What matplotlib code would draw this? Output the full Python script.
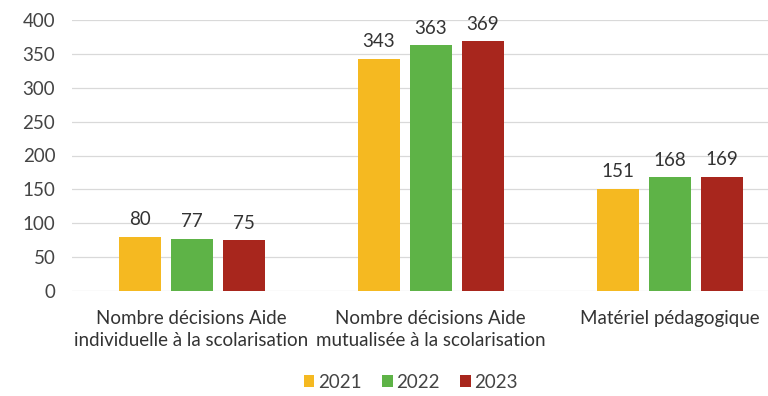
import matplotlib
matplotlib.use("Agg")
import matplotlib.pyplot as plt
import numpy as np

categories = [
    "Nombre décisions Aide\nindividuelle à la scolarisation",
    "Nombre décisions Aide\nmutualisée à la scolarisation",
    "Matériel pédagogique",
]
years = ["2021", "2022", "2023"]
values_2021 = [80, 343, 151]
values_2022 = [77, 363, 168]
values_2023 = [75, 369, 169]
series = [values_2021, values_2022, values_2023]
colors = ["#F5B921", "#5EB347", "#A8261D"]
yticks = [0, 50, 100, 150, 200, 250, 300, 350, 400]

plt.rcParams["font.family"] = ["Lato", "DejaVu Sans"]
FS = 13.5

fig = plt.figure(figsize=(7.68, 3.96), dpi=100)
ax = fig.add_axes([72 / 768, 1 - 291 / 396, 1 - 72 / 768, (291 - 20) / 396])

x = np.arange(len(categories))
width = 0.176
step = 0.2175
for i, (vals, col, yr) in enumerate(zip(series, colors, years)):
    pos = x + (i - 1) * step
    bars = ax.bar(pos, vals, width=width, color=col, label=yr, zorder=3)
    for b, v in zip(bars, vals):
        ax.annotate(str(v), (b.get_x() + b.get_width() / 2, v),
                    xytext=(0, 6), textcoords="offset points",
                    ha="center", va="bottom", fontsize=FS, color="#333333")

ax.set_xlim(-0.5, 2.41)
ax.set_ylim(0, 400)
ax.set_yticks(yticks)
ax.yaxis.grid(True, color="#D9D9D9", linewidth=0.9, zorder=0)
ax.set_axisbelow(True)
for s in ax.spines.values():
    s.set_visible(False)
ax.tick_params(axis="y", length=0, pad=12, labelsize=FS, labelcolor="#444444")
ax.tick_params(axis="x", length=0, pad=14, labelsize=FS, labelcolor="#333333")
ax.set_xticks(x)
ax.set_xticklabels(categories, linespacing=1.3)

leg = fig.legend(loc="center", bbox_to_anchor=(411 / 768, 1 - 382 / 396), ncol=3,
                 frameon=False, fontsize=FS, handlelength=0.55, handleheight=0.55,
                 handletextpad=0.2, columnspacing=1.1)
for t in leg.get_texts():
    t.set_color("#444444")

fig.savefig("out.png", dpi=100, facecolor="white")
